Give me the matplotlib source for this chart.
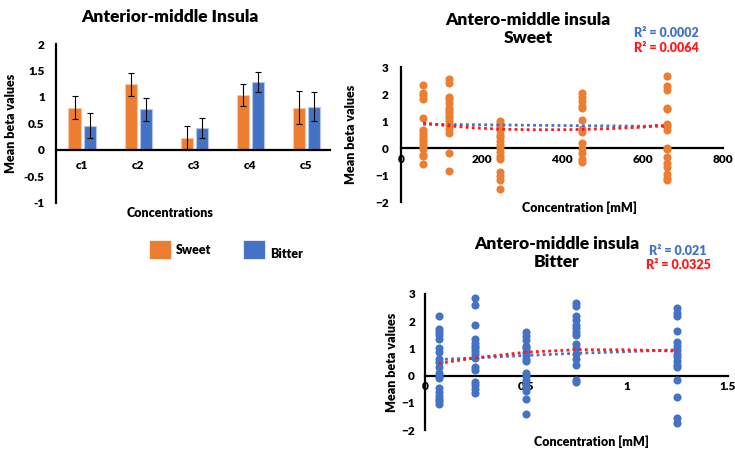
#!/usr/bin/env python3
"""Anterior-middle insula: mean beta per concentration and per-subject scatter."""

import matplotlib

matplotlib.use("Agg")
import matplotlib.pyplot as plt
from matplotlib.patches import Rectangle

plt.rcParams["font.family"] = ["Lato", "DejaVu Sans"]
plt.rcParams["font.weight"] = "heavy"
plt.rcParams["axes.labelweight"] = "heavy"

ORANGE = "#ED7D31"
BLUE = "#4472C4"
RED = "#FF1A1A"
WEIGHT = "heavy"

# bar chart
categories = ["c1", "c2", "c3", "c4", "c5"]
sweet_means = [0.80, 1.24, 0.22, 1.04, 0.80]
sweet_err = [0.21, 0.22, 0.23, 0.21, 0.31]
bitter_means = [0.46, 0.77, 0.41, 1.29, 0.82]
bitter_err = [0.24, 0.22, 0.19, 0.19, 0.27]
bar_yticks = [-1, -0.5, 0, 0.5, 1, 1.5, 2]

# sweet scatter (concentration in mM)
sweet_conc = [55, 120, 245, 450, 660]
sweet_values = [
    [2.35, 2.05, 1.95, 1.8, 1.1, 0.65, 0.55, 0.45, 0.35, 0.25, 0.15, 0.05, -0.05, -0.25, -0.3, -0.6],
    [2.55, 2.4, 1.9, 1.8, 1.65, 1.5, 1.4, 1.3, 1.2, 1.1, 1.0, 0.85, 0.7, 0.55, -0.2, -0.85],
    [1.0, 0.9, 0.8, 0.65, 0.5, 0.4, 0.25, 0.1, 0.0, -0.15, -0.3, -0.4, -0.9, -1.05, -1.2, -1.5],
    [2.05, 1.9, 1.75, 1.55, 1.5, 1.05, 0.7, 0.6, 0.2, -0.05, -0.2, -0.4, -0.5],
    [2.65, 2.3, 2.15, 1.5, 1.45, 0.9, 0.8, 0.65, 0.0, -0.05, -0.35, -0.55, -0.7, -0.95, -1.1, -1.2],
]
sweet_lin_x = [55, 660]
sweet_lin_y = [0.88, 0.80]
sweet_poly_x = [55, 120, 180, 245, 320, 400, 450, 520, 600, 640, 660]
sweet_poly_y = [0.93, 0.82, 0.75, 0.70, 0.68, 0.68, 0.69, 0.72, 0.77, 0.85, 0.80]
sweet_r2 = ["R² = 0.0002", "R² = 0.0064"]

# bitter scatter (concentration in mM)
bitter_conc = [0.07, 0.25, 0.5, 0.75, 1.25]
bitter_values = [
    [2.2, 1.7, 1.6, 1.5, 1.35, 1.0, 0.85, 0.6, 0.5, 0.3, 0.1, 0.0, -0.1, -0.45, -0.6, -0.75, -0.85, -0.95, -1.05],
    [2.85, 2.6, 1.85, 1.35, 1.2, 1.1, 1.0, 0.9, 0.8, 0.65, 0.3, 0.2, -0.25, -0.35, -0.5, -0.65],
    [1.6, 1.45, 1.3, 1.1, 1.0, 0.85, 0.75, 0.6, 0.55, 0.1, 0.0, -0.15, -0.3, -0.45, -0.55, -0.85, -1.4],
    [2.65, 2.55, 2.2, 2.05, 1.85, 1.75, 1.6, 1.5, 1.15, 1.0, 0.8, 0.6, 0.4, -0.15, -0.25],
    [2.5, 2.3, 2.2, 1.65, 1.25, 1.1, 0.95, 0.8, 0.7, 0.55, 0.4, 0.3, -0.15, -0.8, -1.55, -1.75],
]
bitter_lin_x = [0.07, 0.25, 0.5, 0.75, 1.0, 1.25]
bitter_lin_y = [0.59, 0.65, 0.74, 0.82, 0.88, 0.95]
bitter_poly_x = [0.07, 0.25, 0.5, 0.75, 1.0, 1.25]
bitter_poly_y = [0.45, 0.65, 0.86, 0.95, 0.95, 0.90]
bitter_r2 = ["R² = 0.021", "R² = 0.0325"]

scatter_yticks = [-2, -1, 0, 1, 2, 3]


def _px(x, y):
    return x / 735, 1 - y / 449


def _excel_axes(ax):
    for side in ("top", "right"):
        ax.spines[side].set_visible(False)
    ax.spines["left"].set_linewidth(1.6)
    ax.spines["bottom"].set_linewidth(1.6)
    ax.spines["bottom"].set_position(("data", 0))
    ax.tick_params(length=0, labelsize=8.5, pad=4)
    for lab in ax.get_xticklabels() + ax.get_yticklabels():
        lab.set_fontweight(WEIGHT)


def _bar_chart(fig):
    ax = fig.add_axes([0.076, 0.548, 0.373, 0.354])
    xs = list(range(len(categories)))
    w = 0.22
    off = 0.135
    ekw = dict(ecolor="black", elinewidth=0.8, capsize=2.5, capthick=0.8)
    ax.bar([x - off for x in xs], sweet_means, w, color=ORANGE, edgecolor="#F8C7A6", linewidth=0.8,
           yerr=sweet_err, error_kw=ekw)
    ax.bar([x + off for x in xs], bitter_means, w, color=BLUE, edgecolor="#B4C7E7", linewidth=0.8,
           yerr=bitter_err, error_kw=ekw)
    ax.set_xlim(-0.47, 4.42)
    ax.set_ylim(-1, 2)
    ax.set_xticks(xs)
    ax.set_xticklabels(categories)
    ax.set_yticks(bar_yticks)
    ax.set_yticklabels([f"{v:g}" for v in bar_yticks])
    _excel_axes(ax)
    ax.tick_params(axis="x", pad=7)
    ax.tick_params(axis="y", pad=8)
    ax.set_ylabel("Mean beta values", fontsize=9)
    ax.yaxis.set_label_coords(-0.14, 0.5)
    fig.text(*_px(170, 213), "Concentrations", ha="center", va="center", fontsize=9, fontweight=WEIGHT)
    fig.text(*_px(170, 17), "Anterior-middle Insula", ha="center", va="center", fontsize=12.5,
             fontweight=WEIGHT)

    # legend drawn as two swatches below the chart
    for x0, color, label, ty in ((149, ORANGE, "Sweet", 250), (243, BLUE, "Bitter", 254)):
        fig.patches.append(Rectangle(_px(x0, 259), 22 / 735, 19 / 449,
                                     transform=fig.transFigure, facecolor=color,
                                     edgecolor="white", linewidth=0.5))
        fig.text(*_px(x0 + 27, ty), label, ha="left", va="center", fontsize=9, fontweight=WEIGHT)


def _scatter(fig, rect, conc, values, color, lin, poly, xlim, xticks, title, title_xy, r2, r2_xy,
             xlabel_xy, ylabel_x, ytick_pad):
    ax = fig.add_axes(rect)
    for c, vals in zip(conc, values):
        ax.scatter([c] * len(vals), vals, s=34, color=color, linewidths=0, zorder=3)
    ax.plot(lin[0], lin[1], linestyle=(0, (1, 1.2)), color=BLUE, linewidth=2.0, zorder=4)
    ax.plot(poly[0], poly[1], linestyle=(0, (1, 1.2)), color=RED, linewidth=2.0, zorder=4)
    ax.set_xlim(*xlim)
    ax.set_ylim(-2, 3)
    ax.set_xticks(xticks)
    ax.set_xticklabels([f"{v:g}" for v in xticks])
    ax.set_yticks(scatter_yticks)
    _excel_axes(ax)
    ax.tick_params(axis="y", pad=ytick_pad)
    ax.set_ylabel("Mean beta values", fontsize=9)
    ax.yaxis.set_label_coords(ylabel_x, 0.5)
    fig.text(*_px(*xlabel_xy), "Concentration [mM]", ha="center", va="center", fontsize=9,
             fontweight=WEIGHT)
    fig.text(*_px(*title_xy), title, ha="center", va="center", fontsize=12.5, linespacing=1.2,
             fontweight=WEIGHT)
    fig.text(*_px(r2_xy[0], r2_xy[1]), r2[0], ha="left", va="center", fontsize=9, color=BLUE,
             fontweight=WEIGHT)
    fig.text(*_px(r2_xy[2], r2_xy[3]), r2[1], ha="left", va="center", fontsize=9, color=RED,
             fontweight=WEIGHT)
    return ax


def main() -> int:
    fig = plt.figure(figsize=(7.35, 4.49), dpi=100)
    _bar_chart(fig)
    _scatter(fig, [0.5456, 0.550, 0.438, 0.3007], sweet_conc, sweet_values, ORANGE,
             (sweet_lin_x, sweet_lin_y), (sweet_poly_x, sweet_poly_y),
             (0, 800), [0, 200, 400, 600, 800],
             "Antero-middle insula\nSweet", (528, 29), sweet_r2, (634, 33, 634, 48), (580, 208),
             -0.137, 9)
    _scatter(fig, [0.578, 0.0423, 0.412, 0.303], bitter_conc, bitter_values, BLUE,
             (bitter_lin_x, bitter_lin_y), (bitter_poly_x, bitter_poly_y),
             (0, 1.5), [0, 0.5, 1, 1.5],
             "Antero-middle insula\nBitter", (557, 253), bitter_r2, (649, 251, 646, 265), (592, 442),
             -0.09, 7)
    fig.savefig("out.png", dpi=100)
    plt.close(fig)
    return 0


if __name__ == "__main__":
    raise SystemExit(main())
